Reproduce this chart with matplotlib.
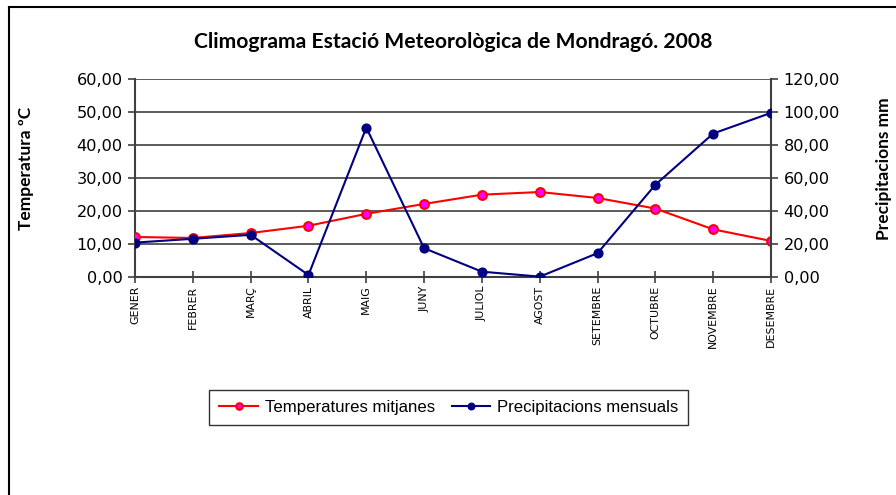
import matplotlib
matplotlib.use("Agg")
import matplotlib.pyplot as plt
from matplotlib.ticker import FuncFormatter, MultipleLocator
from matplotlib.lines import Line2D

mesos = ["GENER", "FEBRER", "MARÇ", "ABRIL", "MAIG", "JUNY", "JULIOL",
         "AGOST", "SETEMBRE", "OCTUBRE", "NOVEMBRE", "DESEMBRE"]
temperatures = [12.2, 11.9, 13.4, 15.6, 19.2, 22.2, 25.0, 25.8, 24.0, 20.8, 14.5, 11.0]
precipitacions = [21.0, 23.3, 25.7, 1.4, 90.6, 17.6, 3.4, 0.4, 14.6, 56.0, 87.0, 99.5]

titol = "Climograma Estació Meteorològica de Mondragó. 2008"
font = "Lato"


def coma(v, pos):
    return f"{v:.2f}".replace(".", ",")


fig = plt.figure(figsize=(8.96, 4.95), dpi=100)
ax = fig.add_axes([0.1507, 0.4398, 0.7098, 0.4006])
ax2 = ax.twinx()

x = list(range(len(mesos)))

ax.set_ylim(0, 60)
ax.yaxis.set_major_locator(MultipleLocator(10))
ax.yaxis.set_major_formatter(FuncFormatter(coma))
ax.grid(axis="y", color="#404040", lw=1.2)
ax.set_axisbelow(True)
ax.set_xlim(0, 11)
ax.set_xticks(x)
ax.set_xticklabels(mesos, rotation=90, fontsize=7.9, family="DejaVu Sans")

ax2.set_ylim(0, 120)
ax2.yaxis.set_major_locator(MultipleLocator(20))
ax2.yaxis.set_major_formatter(FuncFormatter(coma))

l1, = ax.plot(x, temperatures, color="red", lw=1.5, marker="o", ms=6.3,
              mfc="#ff00ff", mec="red", mew=1.5, zorder=4)
l2, = ax2.plot(x, precipitacions, color="#000080", lw=1.5, marker="o", ms=6.3,
               mfc="#000080", mec="#000080", zorder=4)

for a in (ax, ax2):
    for s in a.spines.values():
        s.set_visible(False)
    a.tick_params(axis="y", length=5, width=1.2, color="#404040",
                  labelsize=11.6, pad=4)
    for t in a.get_yticklabels():
        t.set_family("DejaVu Sans")
ax.spines["left"].set_visible(True)
ax.spines["left"].set_color("#404040")
ax.spines["left"].set_linewidth(1.5)
ax.spines["bottom"].set_visible(True)
ax.spines["bottom"].set_color("#404040")
ax.spines["bottom"].set_linewidth(1.5)
ax2.spines["right"].set_visible(True)
ax2.spines["right"].set_color("#404040")
ax2.spines["right"].set_linewidth(1.5)
ax.tick_params(axis="x", direction="inout", length=8, width=1.2,
               color="#404040", pad=2)

ax.set_ylabel("Temperatura ºC", fontsize=12.5, fontweight="bold", family=font)
ax.yaxis.set_label_coords(-0.159, 0.55)
ax2.set_ylabel("Precipitacions mm", fontsize=12.5, fontweight="bold", family=font)
ax2.yaxis.set_label_coords(1.165, 0.55)

fig.text(0.506, 0.915, titol, ha="center", va="center", fontsize=15.2,
         fontweight="bold", family=font)

leg = fig.legend([l1, l2], ["Temperatures mitjanes", "Precipitacions mensuals"],
                 loc="center", bbox_to_anchor=(0.501, 0.176), ncol=2,
                 frameon=True, fancybox=False, edgecolor="black",
                 prop={"family": "Liberation Sans", "size": 12.1},
                 handlelength=2.3, handletextpad=0.4, columnspacing=1.0,
                 borderpad=0.6, markerscale=0.75)
leg.get_frame().set_linewidth(1.0)

# vora de l'àrea del gràfic (només superior i esquerra visibles)
fig.add_artist(Line2D([9 / 896, 1], [1 - 7 / 495, 1 - 7 / 495],
                      transform=fig.transFigure, color="black", lw=1.5))
fig.add_artist(Line2D([9 / 896, 9 / 896], [0, 1 - 7 / 495],
                      transform=fig.transFigure, color="black", lw=1.5))

plt.savefig("out.png", dpi=100)
plt.close()
